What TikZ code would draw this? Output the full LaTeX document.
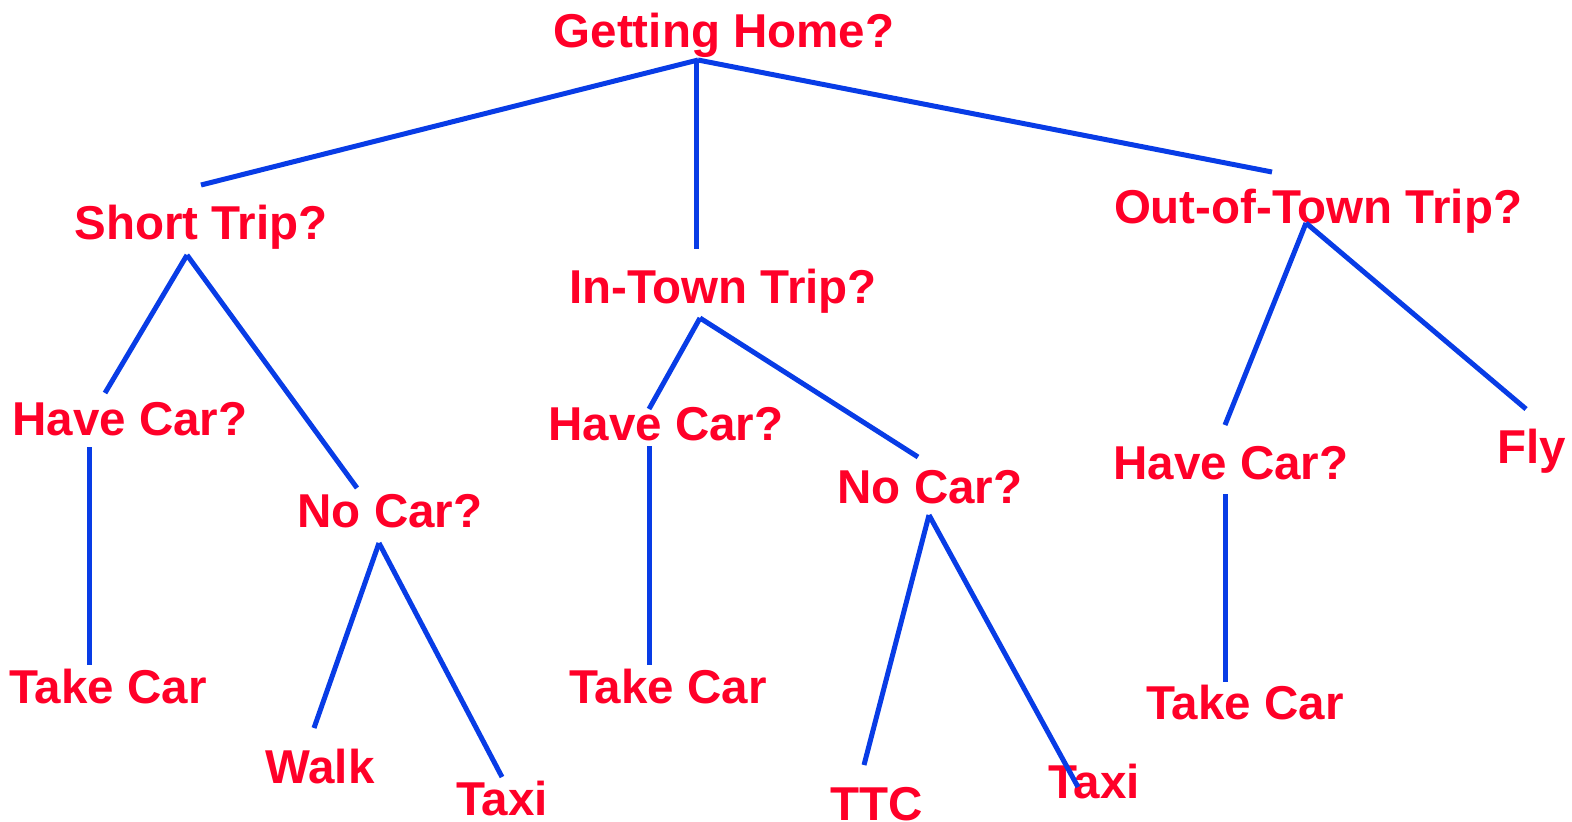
\documentclass[tikz,border=0pt]{standalone}
\usepackage{fontspec}
\setmainfont{Liberation Sans}
\usepackage{tikz}
\definecolor{dtred}{RGB}{255,0,40}
\definecolor{dtblue}{RGB}{8,60,230}
\tikzset{dtnode/.style={anchor=base, inner sep=0pt, text=dtred, font=\fontsize{23.75pt}{28pt}\selectfont\bfseries}}
\tikzset{dtline/.style={draw=dtblue, line width=2.5pt}}

\begin{document}
\begin{tikzpicture}[x=0.5pt, y=-0.5pt]
\useasboundingbox (0,0) rectangle (1572,821);
\node[dtnode] (home) at (724,47) {Getting Home?};
\node[dtnode] (short) at (201,239) {Short Trip?};
\node[dtnode] (intown) at (723,303) {In-Town Trip?};
\node[dtnode] (outtown) at (1318,223) {Out-of-Town Trip?};
\node[dtnode] (havea) at (130,435) {Have Car?};
\node[dtnode] (noa) at (390,527) {No Car?};
\node[dtnode] (haveb) at (666,440) {Have Car?};
\node[dtnode] (nob) at (930,503) {No Car?};
\node[dtnode] (havec) at (1231,479) {Have Car?};
\node[dtnode] (fly) at (1532,463) {Fly};
\node[dtnode] (takea) at (108,703) {Take Car};
\node[dtnode] (walk) at (320,783) {Walk};
\node[dtnode] (taxia) at (502,815) {Taxi};
\node[dtnode] (takeb) at (668,703) {Take Car};
\node[dtnode] (ttc) at (877,820) {TTC};
\node[dtnode] (taxib) at (1094,798) {Taxi};
\node[dtnode] (takec) at (1245,719) {Take Car};
\draw[dtline] ([shift={(-26,13)}]home.base) -- ([shift={(0,-54)}]short.base);
\draw[dtline] ([shift={(-28,13)}]home.base) -- ([shift={(-27,-54)}]intown.base);
\draw[dtline] ([shift={(-26,13)}]home.base) -- ([shift={(-46,-51)}]outtown.base);
\draw[dtline] ([shift={(-14,16)}]short.base) -- ([shift={(-25,-42)}]havea.base);
\draw[dtline] ([shift={(-14,16)}]short.base) -- ([shift={(-33,-39)}]noa.base);
\draw[dtline] ([shift={(-41,12)}]havea.base) -- ([shift={(-19,-38)}]takea.base);
\draw[dtline] ([shift={(-11,16)}]noa.base) -- ([shift={(-6,-55)}]walk.base);
\draw[dtline] ([shift={(-11,16)}]noa.base) -- ([shift={(0,-38)}]taxia.base);
\draw[dtline] ([shift={(-23,15)}]intown.base) -- ([shift={(-17,-31)}]haveb.base);
\draw[dtline] ([shift={(-23,15)}]intown.base) -- ([shift={(-12,-46)}]nob.base);
\draw[dtline] ([shift={(-17,6)}]haveb.base) -- ([shift={(-19,-38)}]takeb.base);
\draw[dtline] ([shift={(-1,12)}]nob.base) -- ([shift={(-13,-55)}]ttc.base);
\draw[dtline] ([shift={(-1,12)}]nob.base) -- ([shift={(-16,-11)}]taxib.base);
\draw[dtline] ([shift={(-12,0)}]outtown.base) -- ([shift={(-6,-54)}]havec.base);
\draw[dtline] ([shift={(-12,0)}]outtown.base) -- ([shift={(-6,-54)}]fly.base);
\draw[dtline] ([shift={(-6,15)}]havec.base) -- ([shift={(-20,-37)}]takec.base);
\end{tikzpicture}
\end{document}
